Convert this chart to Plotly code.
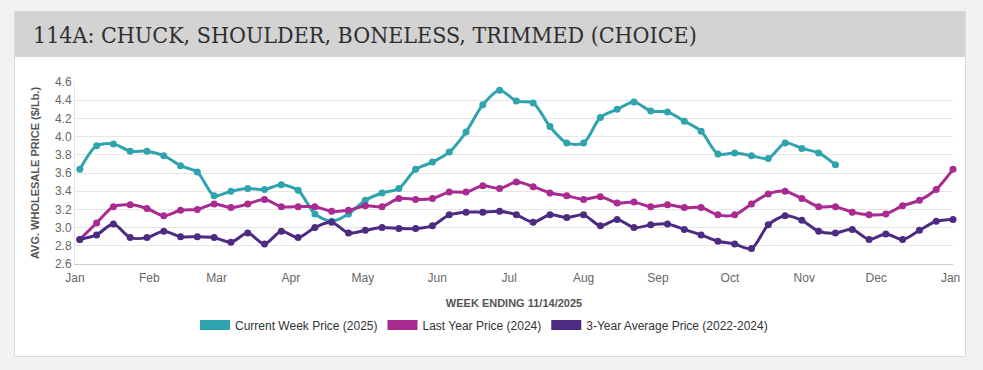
import pandas as pd
import plotly.graph_objects as go

# ---------------- data ----------------
week_start = "2025-01-03"  # first week-ending Friday
current_2025 = [3.64, 3.90, 3.92, 3.84, 3.84, 3.79, 3.68, 3.61, 3.35, 3.40,
                3.43, 3.42, 3.47, 3.41, 3.15, 3.07, 3.15, 3.30, 3.38, 3.43,
                3.64, 3.72, 3.83, 4.05, 4.35, 4.51, 4.39, 4.37, 4.11, 3.93,
                3.93, 4.21, 4.30, 4.38, 4.28, 4.27, 4.17, 4.06, 3.81, 3.82,
                3.79, 3.76, 3.93, 3.87, 3.82, 3.69]
last_year_2024 = [2.87, 3.05, 3.23, 3.25, 3.21, 3.13, 3.19, 3.20, 3.26, 3.22,
                  3.26, 3.31, 3.23, 3.23, 3.23, 3.18, 3.19, 3.24, 3.23, 3.32,
                  3.31, 3.32, 3.39, 3.39, 3.46, 3.43, 3.50, 3.45, 3.38, 3.35,
                  3.31, 3.34, 3.27, 3.28, 3.23, 3.25, 3.22, 3.22, 3.14, 3.14,
                  3.26, 3.37, 3.40, 3.32, 3.23, 3.23, 3.17, 3.14, 3.15, 3.24,
                  3.30, 3.42, 3.64]
avg_3yr = [2.87, 2.92, 3.04, 2.89, 2.89, 2.96, 2.90, 2.90, 2.89, 2.84,
           2.94, 2.82, 2.96, 2.89, 3.00, 3.06, 2.94, 2.97, 3.00, 2.99,
           2.99, 3.02, 3.14, 3.17, 3.17, 3.18, 3.14, 3.06, 3.14, 3.11,
           3.14, 3.02, 3.09, 3.00, 3.03, 3.04, 2.98, 2.92, 2.85, 2.82,
           2.77, 3.03, 3.13, 3.08, 2.96, 2.94, 2.98, 2.87, 2.93, 2.87,
           2.97, 3.07, 3.09]
series_names = ["Current Week Price (2025)", "Last Year Price (2024)",
                "3-Year Average Price (2022-2024)"]
series_colors = ["#2fa3ae", "#a92a90", "#4d2b82"]
title_text = "114A: CHUCK, SHOULDER, BONELESS, TRIMMED (CHOICE)"
y_title = "AVG. WHOLESALE PRICE ($/Lb.)"
x_title = "WEEK ENDING 11/14/2025"

weeks = pd.date_range(week_start, periods=len(last_year_2024), freq="7D")

# ---------------- layout geometry ----------------
W, H = 983, 370
L, T, PW, PH = 75, 82, 878, 182


def px(x):
    return (x - L) / PW


def py(y):
    return (T + PH - y) / PH


fig = go.Figure()

all_values = [current_2025, last_year_2024, avg_3yr]
for vals, name, col in zip(all_values, series_names, series_colors):
    fig.add_trace(go.Scatter(
        x=weeks[:len(vals)], y=vals, mode="lines+markers", name=name,
        line=dict(color=col, width=3, shape="spline", smoothing=0.8),
        marker=dict(color=col, size=7), showlegend=False, cliponaxis=False,
        hovertemplate="%{x|%b %d}: $%{y:.2f}<extra></extra>"))

# legend entries (wide swatches)
for name, col in zip(series_names, series_colors):
    fig.add_trace(go.Scatter(x=[None], y=[None], mode="lines", name=name,
                             line=dict(color=col, width=14), showlegend=True))

shapes = [
    dict(type="rect", xref="paper", yref="paper", layer="below",
         x0=px(14.5), x1=px(965.5), y0=py(356.5), y1=py(11.5),
         fillcolor="#ffffff", line=dict(color="#dadada", width=1)),
    dict(type="rect", xref="paper", yref="paper", layer="below",
         x0=px(15), x1=px(965), y0=py(57), y1=py(12),
         fillcolor="#d3d3d3", line=dict(width=0)),
]

annotations = [
    dict(text=title_text, xref="paper", yref="paper", x=px(31), y=py(35),
         xanchor="left", yanchor="middle", showarrow=False,
         font=dict(family="DejaVu Serif Condensed, DejaVu Serif, serif",
                   size=23, color="#2f2f2f")),
]

fig.update_layout(
    width=W, height=H,
    margin=dict(l=L, r=W - L - PW, t=T, b=H - T - PH, autoexpand=False),
    paper_bgcolor="#f2f2f2", plot_bgcolor="#ffffff",
    font=dict(family="Liberation Sans, Arial, sans-serif", color="#666666", size=12),
    shapes=shapes, annotations=annotations,
    legend=dict(orientation="h", xanchor="center", x=px(484), yanchor="middle",
                y=py(325), font=dict(size=12, color="#333333"),
                bgcolor="rgba(0,0,0,0)", itemsizing="trace", tracegroupgap=0),
    xaxis=dict(range=["2025-01-01", "2026-01-02"], type="date",
               dtick="M1", tick0="2025-01-01", tickformat="%b",
               showgrid=False, showline=True, linecolor="#cccccc", linewidth=1,
               ticks="", ticklabelstandoff=3, tickfont=dict(size=12, color="#666666"),
               title=dict(text="<b>" + x_title + "</b>", standoff=14,
                          font=dict(size=11, color="#555555")),
               zeroline=False, fixedrange=True),
    yaxis=dict(range=[2.6, 4.6], dtick=0.2, tick0=2.6, tickformat=".1f",
               showgrid=True, gridcolor="#e6e6e6", gridwidth=1,
               showline=True, linecolor="#e6e6e6", zeroline=False,
               ticks="", tickfont=dict(size=12, color="#666666"),
               title=dict(text="<b>" + y_title + "</b>", standoff=13,
                          font=dict(size=11, color="#555555")),
               fixedrange=True),
)

fig.write_html("out.html", config={"displayModeBar": False},
               post_script="document.body.style.margin='0px';")
